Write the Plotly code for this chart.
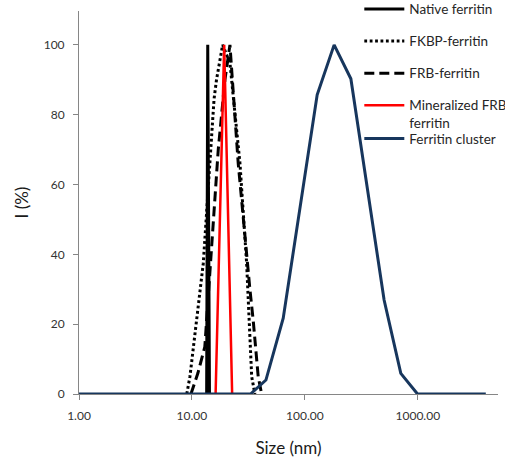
import plotly.graph_objects as go

# ---- data ----
native_x = [13.5, 13.8, 14.3]
native_y = [0, 100, 0]

fkbp_x = [9.0, 9.6, 12.6, 14.9, 15.7, 16.5, 18.7, 21.7, 26.6, 30.5, 33.8, 36.1]
fkbp_y = [0, 5, 37.4, 75.6, 84.5, 90, 100, 94.8, 66.2, 37.5, 5, 0]

frb_x = [9.8, 11.3, 13.0, 15.4, 17.1, 19.6, 21.7, 25.7, 29.4, 32.6, 34.9, 38.6, 41.4]
frb_y = [0, 6, 13.5, 47, 70, 90, 100, 66, 45, 30, 21, 5, 0]

mineral_x = [16.2, 19.3, 22.7]
mineral_y = [0, 100, 0]

cluster_x = [1.0, 33.0, 45.2, 64.3, 128.5, 181.6, 255.4, 503, 707, 994, 4000]
cluster_y = [0, 0, 4.0, 21.7, 85.7, 100, 90.3, 26.9, 5.9, 0, 0]

x_tickvals = [1, 10, 100, 1000]
x_ticktext = ["1.00", "10.00", "100.00", "1000.00"]
y_tickvals = [0, 20, 40, 60, 80, 100]

FONT = "Lato"
AXIS_GRAY = "#868686"

fig = go.Figure()
fig.add_trace(go.Scatter(x=native_x, y=native_y, mode="lines", name="Native ferritin",
                         line=dict(color="black", width=3), legendgroup="g1"))
fig.add_trace(go.Scatter(x=fkbp_x, y=fkbp_y, mode="lines", name="FKBP-ferritin",
                         line=dict(color="black", width=3, dash="2.8px,2.6px"), legendgroup="g2"))
fig.add_trace(go.Scatter(x=frb_x, y=frb_y, mode="lines", name="FRB-ferritin",
                         line=dict(color="black", width=3, dash="10px,5px"), legendgroup="g3"))
fig.add_trace(go.Scatter(x=mineral_x, y=mineral_y, mode="lines", name="Mineralized FRB-<br>ferritin",
                         line=dict(color="#FF0000", width=2.5), legendgroup="g4"))
fig.add_trace(go.Scatter(x=cluster_x, y=cluster_y, mode="lines", name="Ferritin cluster",
                         line=dict(color="#17365D", width=3), legend="legend2"))

fig.update_layout(
    width=505, height=461,
    margin=dict(l=79, r=7, t=11, b=67, autoexpand=False),
    paper_bgcolor="white", plot_bgcolor="white",
    font=dict(family=FONT, color="#333333", size=12),
    legend=dict(x=0.669, y=1.045, xanchor="left", yanchor="top",
                font=dict(family=FONT, size=13.5, color="#262626"),
                tracegroupgap=11.5, valign="top", bgcolor="rgba(0,0,0,0)",
                itemwidth=40),
    legend2=dict(x=0.669, y=0.707, xanchor="left", yanchor="top",
                 font=dict(family=FONT, size=13.5, color="#262626"),
                 bgcolor="rgba(0,0,0,0)", itemwidth=40),
    xaxis=dict(type="log", range=[0, 3.71], showgrid=False, zeroline=False,
               showline=True, linecolor=AXIS_GRAY, linewidth=1,
               ticks="outside", ticklen=5, tickcolor=AXIS_GRAY,
               tickvals=x_tickvals, ticktext=x_ticktext,
               tickfont=dict(family=FONT, size=12, color="#333333"),
               ticklabelstandoff=6,
               title=dict(text="Size (nm)", font=dict(family=FONT, size=17, color="#1a1a1a"), standoff=19)),
    yaxis=dict(range=[0, 109.7], showgrid=False, zeroline=False,
               showline=True, linecolor=AXIS_GRAY, linewidth=1,
               ticks="outside", ticklen=5, tickcolor=AXIS_GRAY,
               tickvals=y_tickvals,
               tickfont=dict(family=FONT, size=12, color="#333333"),
               ticklabelstandoff=6,
               title=dict(text="I (%)", font=dict(family=FONT, size=17, color="#1a1a1a"), standoff=10)),
)

fig.write_html("out.html", config={"displayModeBar": False},
               post_script="document.body.style.margin='0';document.body.style.overflow='hidden';")
